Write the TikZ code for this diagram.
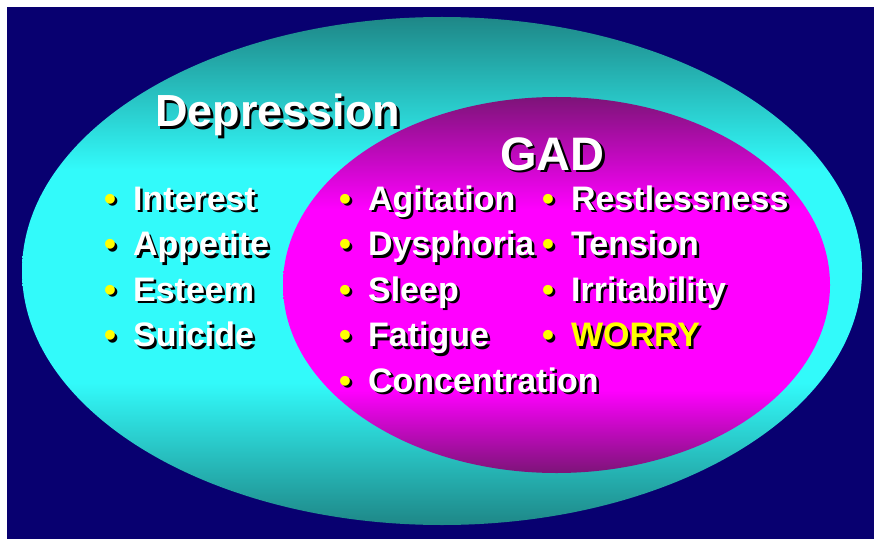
\documentclass[tikz,border=0pt]{standalone}
\usepackage{fontspec}
\setmainfont{Liberation Sans}
\usetikzlibrary{positioning}

\definecolor{navy}{RGB}{8,0,112}
\definecolor{tealdark}{RGB}{30,135,135}
\definecolor{cyanlight}{RGB}{50,250,250}
\definecolor{plumdark}{RGB}{125,20,120}
\definecolor{magentalight}{RGB}{255,0,255}
\definecolor{worryyellow}{RGB}{255,255,0}

\pgfdeclareverticalshading{cyanband}{100bp}{color(0bp)=(tealdark); color(25bp)=(tealdark);
  color(39bp)=(cyanlight); color(60bp)=(cyanlight); color(75bp)=(tealdark); color(100bp)=(tealdark)}
\pgfdeclareverticalshading{magentaband}{100bp}{color(0bp)=(plumdark); color(25bp)=(plumdark);
  color(36bp)=(magentalight); color(60bp)=(magentalight); color(75bp)=(plumdark); color(100bp)=(plumdark)}

% white text with a black drop shadow
\newcommand\shadowed[2][white]{\rlap{\kern2.5pt\raisebox{-2.5pt}{\color{black}#2}}{\color{#1}#2}}
\newcommand\symptomtext[2][white]{\shadowed[worryyellow]{\textbullet}\hspace{17pt}\shadowed[#1]{#2}}

\begin{document}
\begin{tikzpicture}[x=1pt,y=1pt,node distance=45.5pt]
	\tikzstyle{symptom}=[anchor=base west,inner sep=0pt,font=\fontsize{34}{40}\selectfont\bfseries]
	\tikzstyle{heading}=[anchor=base west,inner sep=0pt,font=\fontsize{45}{54}\selectfont\bfseries]

	\fill[white] (0,0) rectangle (874,539);
	\fill[navy] (7,0) rectangle (874,532);

	\shade[shading=cyanband] (442,268) ellipse [x radius=420,y radius=254];
	\shade[shading=magentaband] (556.5,254) ellipse [x radius=273.5,y radius=188];

	\node[heading] (dep) at (155,412) {\shadowed{Depression}};
	\node[heading,font=\fontsize{47}{56}\selectfont\bfseries] (gad) at (500,369) {\shadowed{GAD}};

	% Depression only
	\node[symptom] (int) at (104,329) {\symptomtext{Interest}};
	\node[below=of int.base west,symptom] (app) {\symptomtext{Appetite}};
	\node[below=of app.base west,symptom] (est) {\symptomtext{Esteem}};
	\node[below=of est.base west,symptom] (sui) {\symptomtext{Suicide}};

	% shared
	\node[symptom] (agi) at (339,329) {\symptomtext{Agitation}};
	\node[below=of agi.base west,symptom] (dys) {\symptomtext{Dysphoria}};
	\node[below=of dys.base west,symptom] (slp) {\symptomtext{Sleep}};
	\node[below=of slp.base west,symptom] (fat) {\symptomtext{Fatigue}};
	\node[below=of fat.base west,symptom] (con) {\symptomtext{Concentration}};

	% GAD only
	\node[symptom] (rst) at (542,329) {\symptomtext{Restlessness}};
	\node[below=of rst.base west,symptom] (ten) {\symptomtext{Tension}};
	\node[below=of ten.base west,symptom] (irr) {\symptomtext{Irritability}};
	\node[below=of irr.base west,symptom] (wor) {\symptomtext[worryyellow]{WORRY}};
\end{tikzpicture}
\end{document}
